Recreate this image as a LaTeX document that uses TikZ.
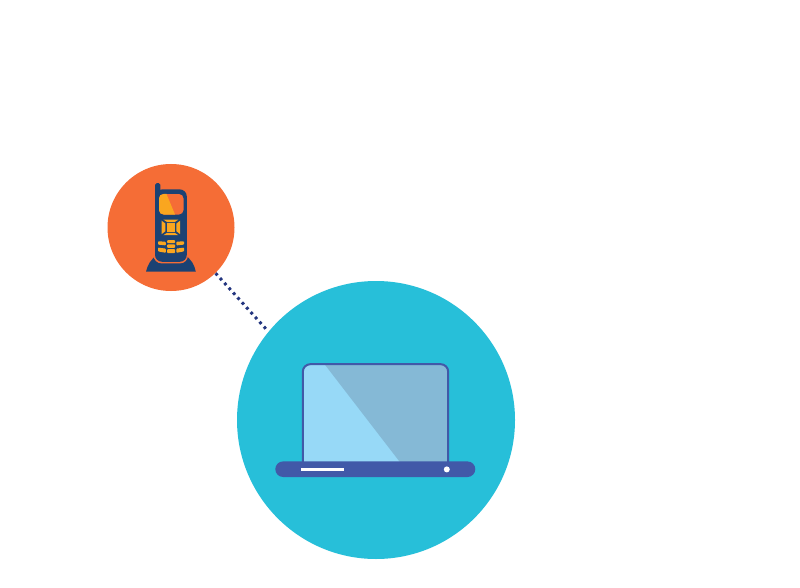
\documentclass[tikz,border=0pt]{standalone}
\definecolor{teal}{HTML}{27BFD9}
\definecolor{org}{HTML}{F56D36}
\definecolor{navy}{HTML}{1B4273}
\definecolor{amber}{HTML}{FAA61F}
\definecolor{dots}{HTML}{23357F}
\definecolor{lapblue}{HTML}{4159A8}
\definecolor{scrlight}{HTML}{97D9F7}
\definecolor{scrdark}{HTML}{85B9D6}
\tikzset{
  hub/.style={circle,inner sep=0pt,minimum size=#1},
  link/.style={draw=dots,line width=3pt,dash pattern=on 2.8pt off 3.75pt},
  key/.style={fill=amber,rounded corners=0.8pt},
}
\begin{document}
\begin{tikzpicture}[x=1pt,y=-1pt]
\useasboundingbox (0,0) rectangle (800,588);
\fill[white] (0,0) rectangle (800,588);
\coordinate (pc) at (171,227.5);
\coordinate (lc) at (376,420);
% connector
\draw[link] (215.6,273.2) -- (268,331.2);
% hubs
\node[hub=127pt,fill=org] (phonehub) at (pc) {};
\node[hub=278pt,fill=teal] (laptophub) at (lc) {};
% phone stand
\fill[navy] (146,271.6) -- (195.8,271.6) .. controls (194.5,265) and (191,259) .. (185,255) -- (157,255) .. controls (151,259) and (147.5,265) .. (146,271.6) -- cycle;
% phone body
\fill[org,rounded corners=8pt] (153.6,200) rectangle (188,263.4);
\fill[navy,rounded corners=7pt] (155,189.4) rectangle (186.8,261.8);
\fill[navy,rounded corners=1.6pt] (155,183.2) rectangle (160.4,200);
% screen
\begin{scope}
\clip[rounded corners=4.5pt] (159,194) rectangle (183.5,214.5);
\fill[org] (159,194) rectangle (183.5,214.5);
\fill[amber] (159,194) -- (166.5,194) -- (175,214.5) -- (159,214.5) -- cycle;
\end{scope}
% d-pad
\fill[amber] (166.8,223.2) rectangle (175,231.6);
\fill[amber] (163.4,219.6) -- (178.4,219.6) -- (174.8,222) -- (167,222) -- cycle;
\fill[amber] (163.4,235.2) -- (178.4,235.2) -- (174.8,232.8) -- (167,232.8) -- cycle;
\fill[amber] (161.6,220.6) -- (165.4,223.6) -- (165.4,231.2) -- (161.6,234.2) -- cycle;
\fill[amber] (180.2,220.6) -- (176.4,223.6) -- (176.4,231.2) -- (180.2,234.2) -- cycle;
% keypad
\fill[key] (158,241.2) -- (165.8,241.8) -- (165.8,245.4) -- (158,244.6) -- cycle;
\fill[key] (158,247.6) -- (165.8,248.6) -- (165.8,252.8) -- (158,251.4) -- cycle;
\fill[key] (167.2,240.2) rectangle (175,243.2);
\fill[key] (167.2,244.4) rectangle (175,247.8);
\fill[key] (167.2,249.2) rectangle (175,253.2);
\fill[key] (184,241.2) -- (176.4,241.8) -- (176.4,245.4) -- (184,244.6) -- cycle;
\fill[key] (184,247.6) -- (176.4,248.6) -- (176.4,252.8) -- (184,251.4) -- cycle;
% laptop screen
\begin{scope}
\clip[rounded corners=7.5pt] (302.6,364) rectangle (448.4,470);
\fill[scrlight] (302,363) rectangle (449,470);
\fill[scrdark] (323.6,363) -- (449,363) -- (449,470) -- (406,470) -- cycle;
\end{scope}
\draw[lapblue,line width=2pt,rounded corners=7.5pt] (302.8,464) -- (302.8,364.2) -- (448.2,364.2) -- (448.2,464);
% laptop base
\fill[lapblue,rounded corners=7.8pt] (275.3,461.4) rectangle (475.3,477);
\fill[white] (301,468) rectangle (344,470.6);
\node[hub=6pt,fill=white] (lapdot) at (446.8,469.4) {};
\end{tikzpicture}
\end{document}
